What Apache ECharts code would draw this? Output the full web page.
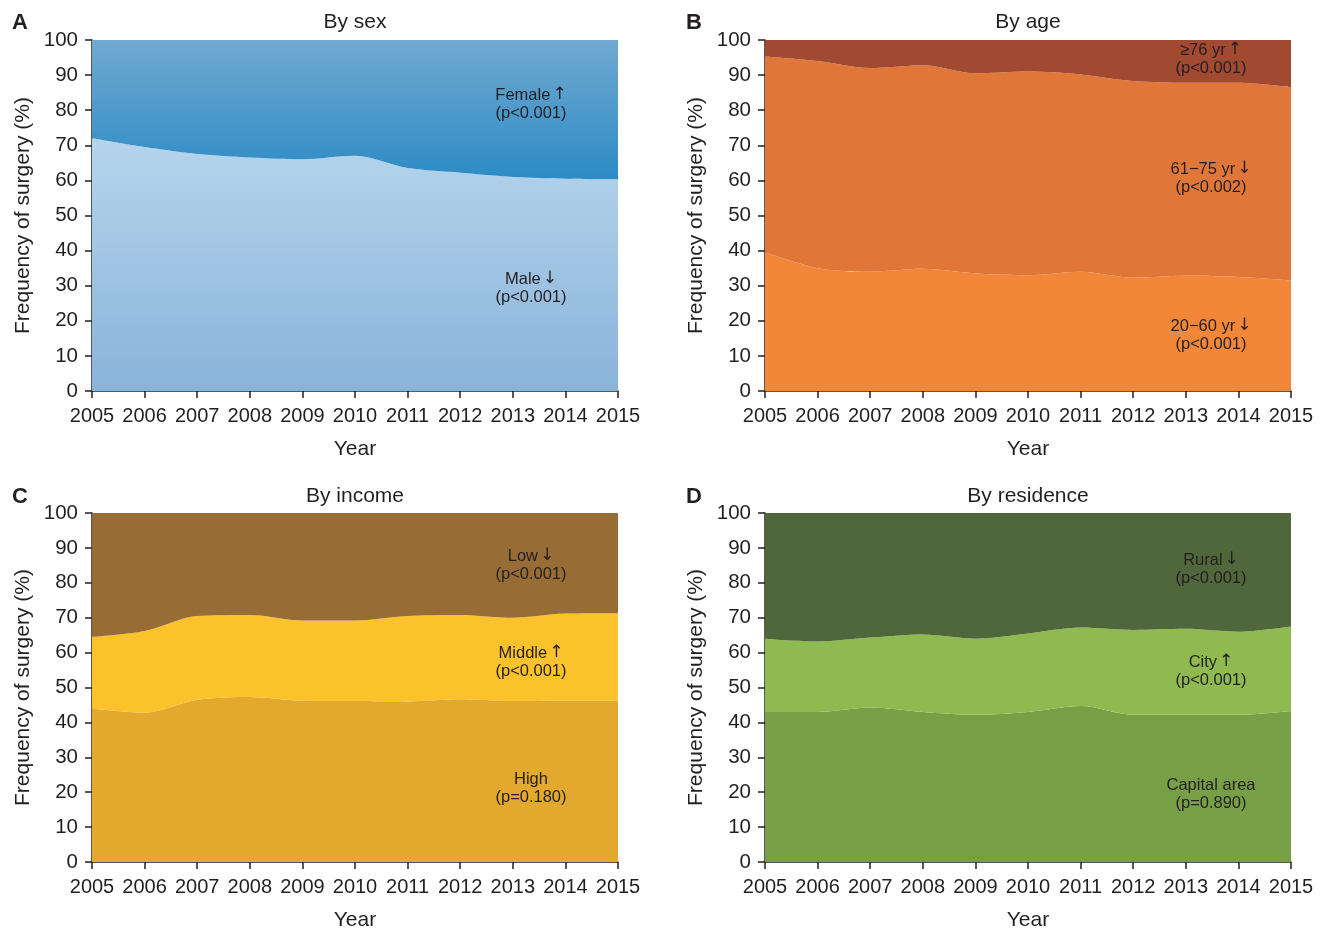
<!DOCTYPE html>
<html><head><meta charset="utf-8">
<script src="https://cdn.jsdelivr.net/npm/echarts@6/dist/echarts.min.js"></script>
<style>html,body{margin:0;padding:0;background:#fff;overflow:hidden}#c{width:1328px;height:932px}</style>
</head><body><div id="c"></div>
<script>
const years = ['2005','2006','2007','2008','2009','2010','2011','2012','2013','2014','2015'];
const yTicks = [0,10,20,30,40,50,60,70,80,90,100];
// A: by sex
const male   = [72, 69.5, 67.5, 66.5, 66, 67, 63.5, 62.2, 61, 60.5, 60.3];
const female = [28, 30.5, 32.5, 33.5, 34, 33, 36.5, 37.8, 39, 39.5, 39.7];
// B: by age
const age2060 = [39.5, 35, 34, 34.8, 33.5, 33, 34, 32.3, 32.8, 32.5, 31.5];
const age6175 = [55.8, 59, 58, 58, 57, 58, 56.2, 56, 55, 55.3, 55];
const age76   = [4.7, 6, 8, 7.2, 9.5, 9, 9.8, 11.7, 12.2, 12.2, 13.5];
// C: by income
const incHigh = [44, 42.8, 46.5, 47.3, 46.2, 46.1, 46, 46.6, 46.1, 46.2, 46.2];
const incMid  = [20.5, 23.4, 24, 23.5, 23, 23.1, 24.5, 24.2, 23.9, 25, 25.1];
const incLow  = [35.5, 33.8, 29.5, 29.2, 30.8, 30.8, 29.5, 29.2, 30, 28.8, 28.7];
// D: by residence
const resCapital = [43, 43, 44.3, 43, 42.2, 43, 44.7, 42.2, 42.2, 42.2, 43.3];
const resCity    = [21, 20.2, 20, 22.2, 21.8, 22.5, 22.5, 24.3, 24.6, 23.8, 24.2];
const resRural   = [36, 36.8, 35.7, 34.8, 36, 34.5, 32.8, 33.5, 33.2, 34, 32.5];

const FONT = 'Liberation Sans, Arial, sans-serif';
const TXT = '#231f20';
const grids = [
  {left:92, right:710, top:40, bottom:541},
  {left:765, right:37, top:40, bottom:541},
  {left:92, right:710, top:513, bottom:67},
  {left:765, right:37, top:513, bottom:67}
];
const xAxes = grids.map((g,i)=>({
  type:'category', gridIndex:i, data:years, boundaryGap:false,
  name:'Year', nameLocation:'middle', nameGap:48,
  nameTextStyle:{fontSize:21, color:TXT, fontFamily:FONT},
  axisLine:{lineStyle:{color:'#231f20', width:1.5}},
  axisTick:{show:true, length:7, lineStyle:{color:'#231f20', width:1.5}, alignWithLabel:true},
  axisLabel:{fontSize:20, color:TXT, fontFamily:FONT, margin:15, interval:0},
  splitLine:{show:false}
}));
const yAxes = grids.map((g,i)=>({
  type:'value', gridIndex:i, min:0, max:100, interval:10,
  name:'Frequency of surgery (%)', nameLocation:'middle', nameGap:58,
  nameTextStyle:{fontSize:21, color:TXT, fontFamily:FONT},
  axisLine:{show:true, lineStyle:{color:'#231f20', width:1.5}},
  axisTick:{show:true, length:7, lineStyle:{color:'#231f20', width:1.5}},
  axisLabel:{fontSize:20.5, color:TXT, fontFamily:FONT, margin:14,
    formatter:(v)=> yTicks.includes(v)? String(v):''},
  splitLine:{show:false}
}));
function grad(c1,c2){return {type:'linear',x:0,y:0,x2:0,y2:1,colorStops:[{offset:0,color:c1},{offset:1,color:c2}]};}
function area(name, data, idx, color){
  return {type:'line', name, data, xAxisIndex:idx, yAxisIndex:idx, stack:'s'+idx,
    smooth:0.3, showSymbol:false, symbol:'none', lineStyle:{width:0},
    areaStyle:{color:color, opacity:1}, z:2, silent:true};
}
const series = [
  area('Male', male, 0, grad('#b5d5ec','#8ab3da')),
  area('Female', female, 0, grad('#70a9d1','#2d8bc5')),
  area('20-60', age2060, 1, '#f28739'),
  area('61-75', age6175, 1, '#e07638'),
  area('76+', age76, 1, '#a14931'),
  area('High', incHigh, 2, '#e2a92e'),
  area('Middle', incMid, 2, '#fbc22b'),
  area('Low', incLow, 2, '#976d35'),
  area('Capital', resCapital, 3, '#779f46'),
  area('City', resCity, 3, '#8fba4f'),
  area('Rural', resRural, 3, '#4f673a')
];
const titles = [
  {text:'By sex', x:355, y:22}, {text:'By age', x:1028, y:22},
  {text:'By income', x:355, y:496}, {text:'By residence', x:1028, y:496}
];
const letters = [
  {text:'A', x:20, y:23}, {text:'B', x:694, y:23}, {text:'C', x:20, y:497}, {text:'D', x:694, y:497}
];
// [label, arrow, p-value, x, y]
const notes = [
  ['Female','\u2191','(p<0.001)',531,95], ['Male','\u2193','(p<0.001)',531,279],
  ['\u226576 yr','\u2191','(p<0.001)',1211,50], ['61\u221275 yr','\u2193','(p<0.002)',1211,169], ['20\u221260 yr','\u2193','(p<0.001)',1211,326],
  ['Low','\u2193','(p<0.001)',531,556], ['Middle','\u2191','(p<0.001)',531,653], ['High','','(p=0.180)',531,779],
  ['Rural','\u2193','(p<0.001)',1211,560], ['City','\u2191','(p<0.001)',1211,662], ['Capital area','','(p=0.890)',1211,785]
];
const graphic = [];
titles.forEach(t=>graphic.push({type:'text', x:t.x, y:t.y, z:10,
  style:{text:t.text, fontSize:21, fill:TXT, fontFamily:FONT, align:'center', verticalAlign:'middle'}}));
letters.forEach(t=>graphic.push({type:'text', x:t.x, y:t.y, z:10,
  style:{text:t.text, fontSize:22, fontWeight:'bold', fill:TXT, fontFamily:FONT, align:'center', verticalAlign:'middle'}}));
notes.forEach(n=>{
  const txt = n[1] ? '{a|'+n[0]+'}{b|'+n[1]+'}' : '{a|'+n[0]+'}';
  graphic.push({type:'text', x:n[3], y:n[4], z:10, style:{text:txt, align:'center', verticalAlign:'middle',
    rich:{a:{fontSize:16.5, fill:TXT, fontFamily:FONT}, b:{fontSize:17, fill:TXT, fontFamily:'DejaVu Sans', padding:[0,0,0,2]}}}});
  graphic.push({type:'text', x:n[3], y:n[4]+18, z:10, style:{text:n[2], fontSize:16.5, fill:TXT, fontFamily:FONT, align:'center', verticalAlign:'middle'}});
});

const chart = echarts.init(document.getElementById('c'), null, {renderer:'canvas'});
chart.setOption({
  animation:false, backgroundColor:'#fff',
  textStyle:{fontFamily:FONT},
  grid:grids, xAxis:xAxes, yAxis:yAxes, series, graphic
});
</script></body></html>
